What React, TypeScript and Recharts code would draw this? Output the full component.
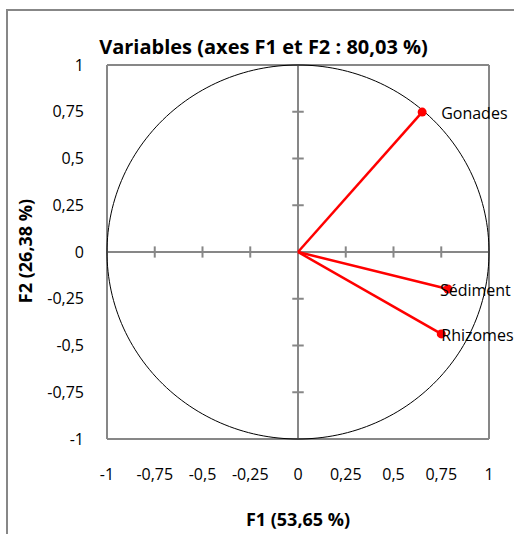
import React from "react";
import {
  ScatterChart,
  Scatter,
  XAxis,
  YAxis,
  ReferenceLine,
} from "recharts";

// Coordonnées des variables sur F1 / F2
const variables = ["Gonades", "Sédiment", "Rhizomes"];
const f1Values = [0.65, 0.785, 0.75];
const f2Values = [0.748, -0.198, -0.438];

const axisTicks = [-1, -0.75, -0.5, -0.25, 0, 0.25, 0.5, 0.75, 1];
const innerTicks = [-0.75, -0.5, -0.25, 0.25, 0.5, 0.75];

// decalage horizontal des étiquettes (px)
const labelDx: Record<string, number> = { Gonades: 19, "Sédiment": -8, Rhizomes: 0 };

const FONT = "'Open Sans', sans-serif";
const GRAY = "#878787";
const RED = "#ff0000";

// cercle des corrélations (rayon 1)
const circle = Array.from({ length: 241 }, (_, i) => {
  const a = (i / 240) * 2 * Math.PI;
  return { x: Math.cos(a), y: Math.sin(a) };
});

const fmt = (v: number) => String(v).replace(".", ",");

const VectorEnd = (props: any) => {
  const { cx, cy, payload } = props;
  if (!payload || !payload.name) return <g />;
  return (
    <g>
      <circle cx={cx} cy={cy} r={4.5} fill={RED} />
      <text
        x={cx + (labelDx[payload.name] ?? 0)}
        y={cy + 1}
        fontFamily={FONT}
        fontSize={16}
        fill="#000"
        dominantBaseline="central"
      >
        {payload.name}
      </text>
    </g>
  );
};

export default function App() {
  return (
    <div style={{ position: "absolute", left: 0, top: 0, width: 514, height: 534, background: "#fff", overflow: "hidden" }}>
      <div
        style={{
          position: "absolute",
          left: 6,
          top: 9,
          width: 600,
          height: 600,
          borderLeft: `2px solid ${GRAY}`,
          borderTop: `2px solid ${GRAY}`,
        }}
      />
      <ScatterChart width={514} height={534} margin={{ top: 65, right: 25, bottom: 0, left: 0 }}>
        <XAxis
          type="number"
          dataKey="x"
          domain={[-1, 1]}
          ticks={axisTicks}
          tickFormatter={fmt}
          axisLine={false}
          tickLine={false}
          tickSize={0}
          tickMargin={30}
          height={95}
          tick={{ fill: "#000", fontFamily: FONT, fontSize: 16 }}
        />
        <YAxis
          type="number"
          dataKey="y"
          domain={[-1, 1]}
          ticks={axisTicks}
          tickFormatter={fmt}
          axisLine={false}
          tickLine={false}
          tickSize={0}
          tickMargin={23}
          width={107}
          tick={{ fill: "#000", fontFamily: FONT, fontSize: 16 }}
        />
        {/* cadre de la zone de tracé */}
        <ReferenceLine x={-1} stroke={GRAY} strokeWidth={2} />
        <ReferenceLine x={1} stroke={GRAY} strokeWidth={2} />
        <ReferenceLine y={-1} stroke={GRAY} strokeWidth={2} />
        <ReferenceLine y={1} stroke={GRAY} strokeWidth={2} />
        {/* axes centraux */}
        <ReferenceLine x={0} stroke={GRAY} strokeWidth={2} />
        <ReferenceLine y={0} stroke={GRAY} strokeWidth={2} />
        {innerTicks.map((t) => (
          <ReferenceLine
            key={`tx${t}`}
            segment={[{ x: t, y: -0.03 }, { x: t, y: 0.03 }]}
            stroke={GRAY}
            strokeWidth={2}
          />
        ))}
        {innerTicks.map((t) => (
          <ReferenceLine
            key={`ty${t}`}
            segment={[{ x: -0.03, y: t }, { x: 0.03, y: t }]}
            stroke={GRAY}
            strokeWidth={2}
          />
        ))}
        <Scatter
          data={circle}
          line={{ stroke: "#000", strokeWidth: 1 }}
          shape={() => <g />}
          isAnimationActive={false}
        />
        {variables.map((name, i) => (
          <Scatter
            key={name}
            data={[{ x: 0, y: 0 }, { x: f1Values[i], y: f2Values[i], name }]}
            line={{ stroke: RED, strokeWidth: 2.5 }}
            fill={RED}
            shape={<VectorEnd />}
            isAnimationActive={false}
          />
        ))}
      </ScatterChart>
      <div
        style={{
          position: "absolute",
          left: 0,
          width: 527,
          top: 34,
          textAlign: "center",
          fontFamily: FONT,
          fontWeight: 700,
          fontSize: 20,
          lineHeight: "26px",
          color: "#000",
        }}
      >
        Variables (axes F1 et F2 : 80,03 %)
      </div>
      <div
        style={{
          position: "absolute",
          left: 107,
          width: 382,
          top: 507,
          textAlign: "center",
          fontFamily: FONT,
          fontWeight: 700,
          fontSize: 18,
          lineHeight: "24px",
          color: "#000",
        }}
      >
        F1 (53,65 %)
      </div>
      <div
        style={{
          position: "absolute",
          left: 25 - 100,
          top: 251 - 12,
          width: 200,
          textAlign: "center",
          transform: "rotate(-90deg)",
          fontFamily: FONT,
          fontWeight: 700,
          fontSize: 18,
          lineHeight: "24px",
          color: "#000",
        }}
      >
        F2 (26,38 %)
      </div>
    </div>
  );
}
